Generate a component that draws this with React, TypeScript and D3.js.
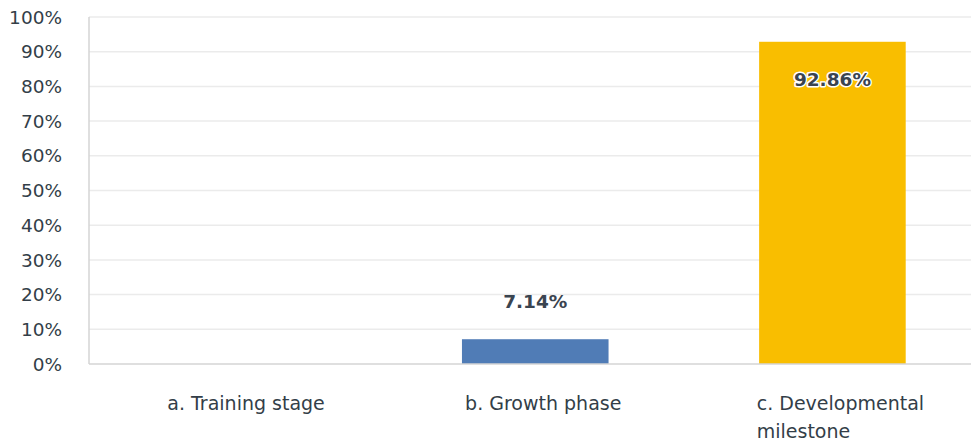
import React, { useEffect, useRef } from "react";
import * as d3 from "d3";

const categories = ["a. Training stage", "b. Growth phase", "c. Developmental milestone"];
const categoryLines = [["a. Training stage"], ["b. Growth phase"], ["c. Developmental", "milestone"]];
const values = [0, 7.14, 92.86];
const barColors = ["#507cb6", "#507cb6", "#f9be00"];
const yTicks = [0, 10, 20, 30, 40, 50, 60, 70, 80, 90, 100];

const W = 971;
const H = 443;
const FONT = "'DejaVu Sans', sans-serif";
const TEXT = "#333e48";

export default function App() {
  const ref = useRef<SVGSVGElement>(null);
  useEffect(() => {
    const svg = d3.select(ref.current);
    svg.selectAll("*").remove();
    const left = 89, top = 17, bottom = 364;
    const x = d3.scaleBand<string>().domain(categories).range([left + 1.5, 982]).paddingInner(0.5).paddingOuter(0.25);
    const y = d3.scaleLinear().domain([0, 100]).range([bottom, top]);
    const bw = x.bandwidth() - 2;

    // gridlines
    svg.append("g").selectAll("line").data(yTicks.filter(t => t > 0)).join("line")
      .attr("x1", left).attr("x2", W).attr("y1", d => y(d)).attr("y2", d => y(d))
      .attr("stroke", "#ebebeb").attr("stroke-width", 1.5);

    // y tick labels
    svg.append("g").selectAll("text").data(yTicks).join("text")
      .attr("x", 62).attr("y", d => y(d)).attr("dy", "0.36em")
      .attr("text-anchor", "end").attr("font-family", FONT).attr("font-size", 18.5)
      .attr("fill", TEXT).text(d => `${d}%`);

    // bars
    svg.append("g").selectAll("rect").data(values).join("rect")
      .attr("x", (_, i) => x(categories[i])!)
      .attr("width", bw)
      .attr("y", d => y(d)).attr("height", d => bottom - y(d))
      .attr("fill", (_, i) => barColors[i]);

    // axes lines
    svg.append("line").attr("x1", left).attr("x2", left).attr("y1", top).attr("y2", bottom)
      .attr("stroke", "#d4d4d4").attr("stroke-width", 1.5);
    svg.append("line").attr("x1", left).attr("x2", W).attr("y1", bottom).attr("y2", bottom)
      .attr("stroke", "#d4d4d4").attr("stroke-width", 1.5);

    // value labels
    values.forEach((v, i) => {
      if (v <= 0) return;
      const cx = x(categories[i])! + bw / 2;
      const inside = v > 50;
      const t = svg.append("text")
        .attr("x", cx)
        .attr("y", inside ? y(v) + 44 : y(v) - 31)
        .attr("text-anchor", "middle").attr("font-family", FONT)
        .attr("font-size", 18.5).attr("font-weight", 700).attr("fill", "#3a4450")
        .text(`${v.toFixed(2)}%`);
      if (inside) {
        t.attr("stroke", "#ffffff").attr("stroke-width", 3).attr("paint-order", "stroke").attr("stroke-linejoin", "round");
      }
    });

    // category labels
    categoryLines.forEach((lines, i) => {
      const cx = x(categories[i])! + bw / 2 + 8;
      const g = svg.append("text").attr("font-family", FONT).attr("font-size", 19).attr("fill", TEXT);
      lines.forEach((ln, j) => {
        g.append("tspan").attr("x", cx).attr("y", 410 + j * 28).text(ln);
      });
      const w = (g.node() as SVGTextElement).getBBox().width;
      g.selectAll("tspan").attr("x", cx - w / 2);
    });
  }, []);
  return (
    <svg ref={ref} width={W} height={H} style={{ position: "absolute", left: 0, top: 0, background: "#fff" }} />
  );
}
